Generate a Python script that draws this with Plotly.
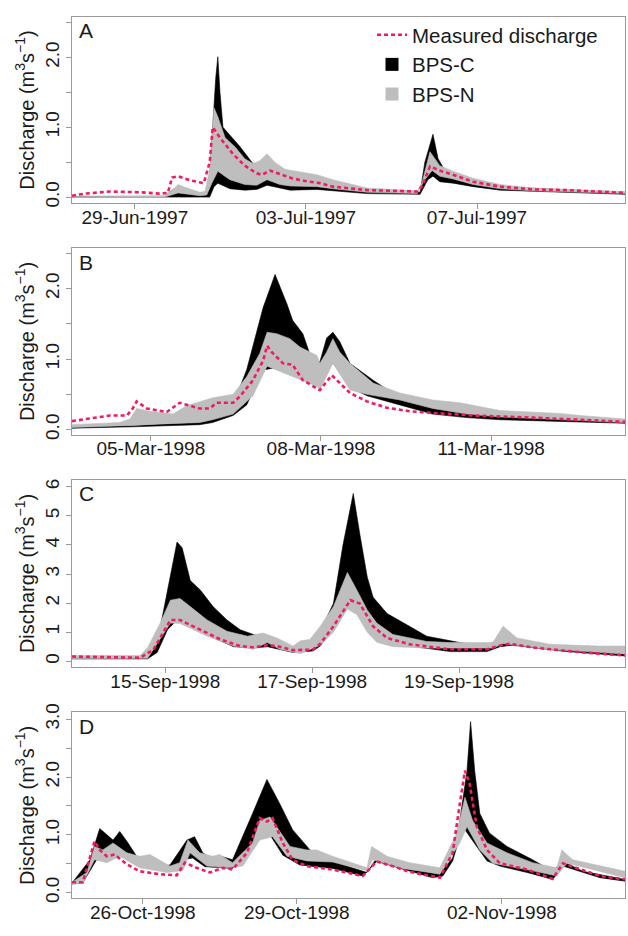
import plotly.graph_objects as go
import pandas as pd

# ---------------- data (day offset from panel base date, discharge m3/s) ----------------
# Panel A (base 29-Jun-1997)
A_MEAS = [(-1.47,0.02),(-1.17,0.05),(-0.58,0.08),(0.12,0.07),(0.58,0.05),(0.77,0.06),(0.87,0.28),(1.01,0.30),
          (1.29,0.24),(1.61,0.20),(1.75,0.50),(1.82,1.00),(1.99,0.85),(2.29,0.62),(2.57,0.45),(2.85,0.34),
          (2.97,0.32),(3.16,0.38),(3.39,0.33),(3.67,0.27),(3.98,0.23),(4.33,0.20),(4.63,0.15),(5.43,0.10),
          (6.60,0.08),(6.71,0.15),(6.90,0.44),(7.13,0.38),(7.44,0.32),(7.91,0.22),(8.54,0.15),(9.31,0.11),
          (10.11,0.10),(11.46,0.06)]
A_N_UP = [(-1.47,0.01),(0.70,0.02),(0.87,0.10),(1.01,0.18),(1.17,0.14),(1.52,0.07),(1.64,0.08),(1.75,0.40),
          (1.85,1.28),(1.94,1.15),(2.11,0.85),(2.34,0.72),(2.57,0.55),(2.76,0.48),(2.92,0.52),(3.09,0.62),
          (3.27,0.50),(3.51,0.40),(3.67,0.38),(3.86,0.36),(4.26,0.32),(4.63,0.25),(5.43,0.13),(6.60,0.09),
          (6.71,0.20),(6.90,0.65),(7.13,0.45),(7.25,0.42),(7.44,0.37),(7.91,0.27),(8.54,0.18),(9.31,0.13),
          (10.11,0.11),(11.46,0.08)]
A_N_LO = [(-1.47,0.00),(0.70,0.00),(0.87,0.03),(1.01,0.06),(1.52,0.02),(1.68,0.03),(1.80,0.20),(1.94,0.37),
          (2.22,0.25),(2.57,0.18),(2.85,0.17),(3.09,0.25),(3.39,0.18),(3.63,0.16),(4.26,0.15),(4.63,0.12),
          (5.43,0.07),(6.60,0.05),(6.78,0.25),(6.95,0.38),(7.13,0.30),(7.44,0.26),(7.91,0.18),(8.54,0.12),
          (9.31,0.09),(10.11,0.07),(11.46,0.05)]
A_C_UP = [(-1.47,0.01),(0.70,0.01),(0.87,0.10),(1.01,0.15),(1.52,0.05),(1.68,0.08),(1.75,0.30),(1.82,1.00),
          (1.89,1.70),(1.94,2.01),(1.99,1.50),(2.06,1.00),(2.18,0.92),(2.46,0.72),(2.76,0.48),(3.04,0.45),
          (3.63,0.30),(4.26,0.22),(5.43,0.10),(6.67,0.07),(6.78,0.50),(6.97,0.90),(7.09,0.55),(7.25,0.38),
          (7.60,0.30),(8.54,0.15),(11.46,0.06)]
A_C_LO = [(-1.47,0.00),(1.75,0.00),(1.85,0.15),(1.94,0.20),(2.22,0.12),(2.57,0.10),(2.85,0.11),(3.09,0.17),
          (3.39,0.13),(3.63,0.10),(4.26,0.11),(5.43,0.05),(6.67,0.04),(6.85,0.25),(6.97,0.30),(7.13,0.22),
          (7.44,0.20),(7.91,0.15),(8.54,0.10),(11.46,0.04)]

# Panel B (base 05-Mar-1998)
B_MEAS = [(-1.39,0.12),(-0.72,0.20),(-0.42,0.20),(-0.32,0.30),(-0.25,0.40),(-0.07,0.30),(0.28,0.25),(0.51,0.38),
          (0.86,0.30),(1.04,0.30),(1.16,0.38),(1.45,0.38),(1.57,0.47),(1.80,0.70),(1.98,0.98),(2.05,1.19),
          (2.13,1.10),(2.33,0.94),(2.50,0.92),(2.68,0.70),(2.98,0.56),(3.19,0.77),(3.51,0.52),(3.81,0.40),
          (4.16,0.31),(4.57,0.26),(5.10,0.23),(5.68,0.20),(6.74,0.17),(8.36,0.11)]
B_N_UP = [(-1.39,0.07),(-0.55,0.10),(-0.37,0.15),(-0.25,0.30),(-0.02,0.26),(0.39,0.22),(0.63,0.34),(1.09,0.45),
          (1.45,0.50),(1.69,0.75),(1.92,1.08),(2.05,1.38),(2.22,1.36),(2.45,1.29),(2.63,1.17),(2.93,1.05),
          (2.98,0.94),(3.10,1.10),(3.21,1.29),(3.33,1.10),(3.51,0.94),(3.92,0.66),(4.39,0.52),(4.97,0.42),
          (5.45,0.38),(6.16,0.27),(7.21,0.23),(7.57,0.20),(8.36,0.15)]
B_N_LO = [(-1.39,0.03),(-0.32,0.06),(0.16,0.08),(0.86,0.10),(1.09,0.14),(1.45,0.22),(1.80,0.48),(2.05,0.90),
          (2.33,0.80),(2.93,0.61),(2.98,0.56),(3.21,0.94),(3.51,0.56),(3.81,0.50),(4.39,0.42),(4.97,0.30),
          (5.57,0.22),(6.16,0.18),(8.36,0.10)]
B_C_UP = [(-1.39,0.04),(-0.32,0.06),(0.86,0.10),(1.09,0.15),(1.45,0.35),(1.69,0.85),(1.98,1.73),(2.19,2.20),
          (2.40,1.78),(2.50,1.55),(2.68,1.36),(2.80,1.08),(2.93,0.98),(2.98,0.96),(3.10,1.30),(3.21,1.38),
          (3.33,1.25),(3.51,0.94),(3.92,0.70),(4.39,0.45),(4.97,0.35),(5.57,0.30),(6.16,0.20),(8.36,0.12)]
B_C_LO = [(-1.39,0.02),(-0.32,0.04),(0.86,0.07),(1.09,0.10),(1.45,0.20),(1.69,0.35),(1.87,0.66),(2.01,0.85),
          (2.33,0.90),(2.93,0.70),(3.21,0.95),(3.51,0.60),(3.81,0.48),(4.39,0.35),(4.97,0.22),(5.57,0.17),
          (6.16,0.14),(8.36,0.09)]

# Panel C (base 15-Sep-1998)
C_MEAS = [(-1.27,0.16),(-0.34,0.12),(-0.16,0.40),(-0.03,0.95),(0.07,1.42),(0.20,1.42),(0.48,1.08),(0.75,0.75),
          (1.02,0.52),(1.20,0.48),(1.39,0.55),(1.52,0.52),(1.74,0.38),(1.84,0.38),(2.01,0.40),(2.11,0.60),
          (2.29,1.20),(2.52,2.10),(2.65,1.98),(2.83,1.20),(3.02,0.80),(3.33,0.58),(3.88,0.41),(4.38,0.41),
          (4.56,0.54),(4.69,0.60),(5.01,0.47),(5.69,0.30),(6.26,0.20)]
C_N_UP = [(-1.27,0.20),(-0.34,0.20),(-0.24,0.47),(-0.07,1.31),(0.07,2.10),(0.20,2.16),(0.34,1.88),(0.57,1.42),
          (0.84,1.03),(1.12,0.86),(1.33,0.97),(1.52,0.80),(1.74,0.52),(1.84,0.70),(1.97,0.75),(2.11,1.20),
          (2.29,1.88),(2.48,3.05),(2.61,2.44),(2.75,1.76),(2.88,1.31),(3.10,0.92),(3.56,0.68),(3.88,0.64),
          (4.46,0.64),(4.60,1.20),(4.79,0.80),(5.24,0.58),(5.92,0.52),(6.26,0.52)]
C_N_LO = [(-1.27,0.08),(-0.24,0.10),(-0.07,0.75),(0.07,1.31),(0.20,1.30),(0.57,0.86),(0.93,0.52),(1.20,0.41),
          (1.39,0.64),(1.56,0.41),(1.84,0.26),(2.11,0.55),(2.29,1.00),(2.48,1.80),(2.61,1.60),(2.75,1.00),
          (2.88,0.65),(3.10,0.50),(3.56,0.45),(3.88,0.45),(4.46,0.45),(4.60,0.60),(4.79,0.55),(5.24,0.40),
          (5.92,0.30),(6.26,0.25)]
C_C_UP = [(-1.27,0.12),(-0.24,0.12),(-0.11,0.63),(0.03,2.44),(0.16,4.10),(0.23,3.90),(0.34,2.78),(0.48,2.44),
          (0.65,1.88),(0.84,1.42),(1.02,1.08),(1.20,0.92),(1.39,0.75),(1.66,0.52),(1.84,0.41),(2.01,0.63),
          (2.11,1.03),(2.29,1.99),(2.42,4.00),(2.56,5.77),(2.65,4.36),(2.75,2.90),(2.83,2.20),(3.02,1.64),
          (3.29,1.25),(3.56,0.86),(4.01,0.64),(4.38,0.52),(4.60,0.86),(4.73,0.75),(5.24,0.52),(6.26,0.24)]
C_C_LO = [(-1.27,0.08),(-0.24,0.08),(-0.11,0.30),(0.03,1.08),(0.16,1.42),(0.48,1.00),(0.93,0.50),(1.20,0.45),
          (1.39,0.50),(1.74,0.30),(2.01,0.35),(2.11,0.52),(2.38,1.53),(2.56,2.30),(2.75,1.64),(2.97,0.86),
          (3.33,0.52),(3.88,0.33),(4.38,0.33),(4.56,0.50),(4.73,0.55),(5.47,0.33),(6.26,0.18)]

# Panel D (base 26-Oct-1998)
D_MEAS = [(-1.38,0.18),(-1.17,0.18),(-0.94,0.89),(-0.84,0.74),(-0.70,0.63),(-0.55,0.66),(-0.31,0.49),(-0.06,0.37),
          (0.33,0.32),(0.66,0.30),(0.82,0.52),(1.05,0.43),(1.31,0.35),(1.56,0.43),(1.75,0.40),(2.03,0.69),
          (2.28,1.29),(2.42,1.23),(2.53,1.29),(2.73,0.86),(2.92,0.57),(3.20,0.46),(3.45,0.43),(3.70,0.40),
          (4.29,0.29),(4.56,0.54),(4.87,0.46),(5.20,0.36),(5.79,0.26),(6.04,0.69),(6.18,1.54),(6.28,2.11),
          (6.37,1.89),(6.51,1.14),(6.71,0.74),(6.96,0.51),(7.49,0.40),(7.99,0.24),(8.19,0.51),(8.46,0.43),
          (8.91,0.29),(9.40,0.23)]
D_N_UP = [(-1.38,0.18),(-1.09,0.35),(-0.94,0.80),(-0.78,0.74),(-0.58,0.86),(-0.31,0.69),(-0.06,0.63),(0.14,0.66),
          (0.53,0.46),(0.72,0.52),(0.88,0.91),(1.11,0.69),(1.36,0.63),(1.50,0.66),(1.75,0.52),(2.14,0.86),
          (2.28,1.25),(2.48,1.31),(2.61,1.14),(2.87,0.80),(3.20,0.74),(3.39,0.74),(3.70,0.63),(4.37,0.43),
          (4.46,0.80),(4.76,0.63),(5.20,0.52),(5.79,0.43),(6.12,1.03),(6.28,1.65),(6.43,1.25),(6.71,0.86),
          (7.10,0.69),(7.60,0.52),(8.07,0.43),(8.17,0.74),(8.38,0.57),(9.40,0.37)]
D_N_LO = [(-1.38,0.15),(-1.17,0.16),(-0.94,0.57),(-0.70,0.52),(-0.45,0.63),(-0.06,0.43),(0.47,0.35),(0.78,0.38),
          (0.92,0.69),(1.25,0.46),(1.64,0.43),(1.95,0.46),(2.28,0.91),(2.53,0.97),(2.81,0.63),(3.20,0.55),
          (3.70,0.53),(4.37,0.38),(4.48,0.57),(5.01,0.43),(5.79,0.32),(6.18,0.86),(6.32,1.14),(6.57,0.74),
          (6.82,0.51),(7.60,0.38),(8.07,0.29),(8.27,0.51),(9.40,0.26)]
D_C_UP = [(-1.38,0.17),(-1.03,0.57),(-0.84,1.11),(-0.70,1.00),(-0.58,0.91),(-0.45,1.06),(-0.31,0.89),(-0.12,0.63),
          (0.08,0.57),(0.33,0.45),(0.53,0.48),(0.86,0.91),(1.01,0.97),(1.17,0.69),(1.36,0.57),(1.56,0.62),
          (1.75,0.57),(2.14,1.37),(2.42,1.96),(2.67,1.54),(2.92,1.09),(3.26,0.74),(3.59,0.57),(4.37,0.35),
          (4.56,0.60),(5.01,0.42),(5.79,0.33),(6.04,0.60),(6.18,1.25),(6.32,2.11),(6.39,2.96),(6.47,2.11),
          (6.57,1.37),(6.76,1.03),(7.10,0.80),(7.60,0.57),(7.99,0.37),(8.19,0.54),(8.58,0.37),(9.40,0.23)]
D_C_LO = [(-1.38,0.15),(-1.17,0.17),(-0.90,0.57),(-0.51,0.69),(-0.06,0.50),(0.59,0.40),(0.78,0.57),(0.97,0.60),
          (1.21,0.45),(1.75,0.42),(2.18,0.90),(2.48,1.00),(2.73,0.65),(3.06,0.48),(3.70,0.42),(4.29,0.29),
          (4.56,0.54),(5.65,0.26),(5.85,0.29),(6.04,0.55),(6.24,1.14),(6.43,0.90),(6.71,0.55),(6.96,0.46),
          (7.49,0.35),(7.99,0.23),(8.19,0.46),(8.91,0.26),(9.40,0.20)]

PANEL_LETTERS = ["A", "B", "C", "D"]
BASE_DATES = ["1997-06-29", "1998-03-05", "1998-09-15", "1998-10-26"]
X_TICK_DAYS = [[0, 4, 8], [0, 3, 6], [0, 2, 4], [0, 3, 7]]
X_TICK_LABELS = [["29-Jun-1997", "03-Jul-1997", "07-Jul-1997"],
                 ["05-Mar-1998", "08-Mar-1998", "11-Mar-1998"],
                 ["15-Sep-1998", "17-Sep-1998", "19-Sep-1998"],
                 ["26-Oct-1998", "29-Oct-1998", "02-Nov-1998"]]
Y_TICK_VALS = [[0, 1, 2], [0, 1, 2], [0, 1, 2, 3, 4, 5, 6], [0, 1, 2, 3]]
Y_TICK_LABELS = [["0.0", "1.0", "2.0"], ["0.0", "1.0", "2.0"],
                 ["0", "1", "2", "3", "4", "5", "6"], ["0.0", "1.0", "2.0", "3.0"]]
Y_MINOR_VALS = [[0.5, 1.5, 2.5], [0.5, 1.5, 2.5], [], [0.5, 1.5, 2.5]]
SERIES_NAMES = ["Measured discharge", "BPS-C", "BPS-N"]

DATA = [
    (A_MEAS, A_C_UP, A_C_LO, A_N_UP, A_N_LO),
    (B_MEAS, B_C_UP, B_C_LO, B_N_UP, B_N_LO),
    (C_MEAS, C_C_UP, C_C_LO, C_N_UP, C_N_LO),
    (D_MEAS, D_C_UP, D_C_LO, D_N_UP, D_N_LO),
]

# ---------------- layout / styling ----------------
W, H = 628, 936
X_RANGE_DAYS = [(-1.47, 11.46), (-1.39, 8.36), (-1.27, 6.26), (-1.38, 9.40)]
Y_RANGES = [(-0.085, 2.58), (-0.07, 2.57), (-0.2, 6.24), (-0.1, 3.12)]
BOX_PX = [(8, 197), (243, 432), (478, 668), (714, 903)]
X_LEFT, X_RIGHT = 72, 625

RED = "#F01D5C"
GRAY = "#BEBEBE"
BLACK = "#000000"
AXC = "#9A9A9A"
TXT = "#1a1a1a"
FONT = "Liberation Sans, Arial, Helvetica, sans-serif"


def to_dt(base, days):
    b = pd.Timestamp(base)
    return [b + pd.Timedelta(days=float(d)) for d in days]


def band(base, up, lo):
    xs = [p[0] for p in up] + [p[0] for p in lo][::-1]
    ys = [p[1] for p in up] + [p[1] for p in lo][::-1]
    return to_dt(base, xs), ys


fig = go.Figure()
layout = dict(width=W, height=H, margin=dict(l=0, r=0, t=0, b=0),
              paper_bgcolor="white", plot_bgcolor="white",
              font=dict(family=FONT, color=TXT, size=18),
              showlegend=True)

annotations = []
for i in range(4):
    base = BASE_DATES[i]
    meas, cup, clo, nup, nlo = DATA[i]
    xa = "x" if i == 0 else f"x{i+1}"
    ya = "y" if i == 0 else f"y{i+1}"

    bx, by = band(base, cup, clo)
    fig.add_trace(go.Scatter(x=bx, y=by, fill="toself", fillcolor=BLACK, mode="lines",
                             line=dict(width=0.6, color=BLACK), showlegend=False,
                             hoverinfo="skip", xaxis=xa, yaxis=ya))
    gx, gy = band(base, nup, nlo)
    fig.add_trace(go.Scatter(x=gx, y=gy, fill="toself", fillcolor=GRAY, mode="lines",
                             line=dict(width=0.6, color=GRAY), showlegend=False,
                             hoverinfo="skip", xaxis=xa, yaxis=ya))
    fig.add_trace(go.Scatter(x=to_dt(base, [p[0] for p in meas]), y=[p[1] for p in meas],
                             mode="lines", line=dict(color=RED, width=2.6, dash="4px,3px"),
                             showlegend=False, xaxis=xa, yaxis=ya))

    top, bot = BOX_PX[i]
    xr = to_dt(base, X_RANGE_DAYS[i])
    axis_common = dict(showgrid=False, zeroline=False, showline=True, linecolor=AXC, linewidth=1,
                       mirror=True, ticks="outside", tickcolor=AXC, ticklen=5, tickwidth=1,
                       tickfont=dict(family=FONT, size=19, color=TXT))
    layout["xaxis" + ("" if i == 0 else str(i + 1))] = dict(
        axis_common, type="date", range=xr, domain=[X_LEFT / W, X_RIGHT / W],
        anchor=ya, tickmode="array", tickvals=to_dt(base, X_TICK_DAYS[i]),
        ticktext=X_TICK_LABELS[i], ticklabelstandoff=-8)
    ydict = dict(
        axis_common, range=list(Y_RANGES[i]), domain=[1 - bot / H, 1 - top / H],
        anchor=xa, tickmode="array", tickvals=Y_TICK_VALS[i], ticktext=Y_TICK_LABELS[i],
        tickangle=-90, ticklabelstandoff=-1,
        title=dict(text="Discharge (m<sup>3</sup>s<sup>\u22121</sup>)", standoff=2,
                   font=dict(family=FONT, size=20, color=TXT)))
    if Y_MINOR_VALS[i]:
        ydict["minor"] = dict(tickmode="array", tickvals=Y_MINOR_VALS[i], ticks="outside",
                              ticklen=5, tickcolor=AXC, tickwidth=1, showgrid=False)
    layout["yaxis" + ("" if i == 0 else str(i + 1))] = ydict
    annotations.append(dict(text=PANEL_LETTERS[i], x=77 / W, y=1 - (top + 14) / H, xref="paper",
                            yref="paper", xanchor="left", yanchor="middle", showarrow=False,
                            font=dict(family=FONT, size=21, color=TXT)))

# legend entries
fig.add_trace(go.Scatter(x=[None], y=[None], mode="lines", name=SERIES_NAMES[0],
                         line=dict(color=RED, width=2.6, dash="4px,3px")))
fig.add_trace(go.Scatter(x=[None], y=[None], mode="markers", name=SERIES_NAMES[1],
                         marker=dict(symbol="square", size=13, color=BLACK)))
fig.add_trace(go.Scatter(x=[None], y=[None], mode="markers", name=SERIES_NAMES[2],
                         marker=dict(symbol="square", size=13, color=GRAY)))

layout["legend"] = dict(x=372 / W, y=1 - 6 / H, xanchor="left", yanchor="top",
                        bgcolor="rgba(0,0,0,0)", font=dict(family=FONT, size=20.5, color=TXT),
                        tracegroupgap=0, itemwidth=30)
layout["annotations"] = annotations
fig.update_layout(**layout)
fig.write_html("out.html")
